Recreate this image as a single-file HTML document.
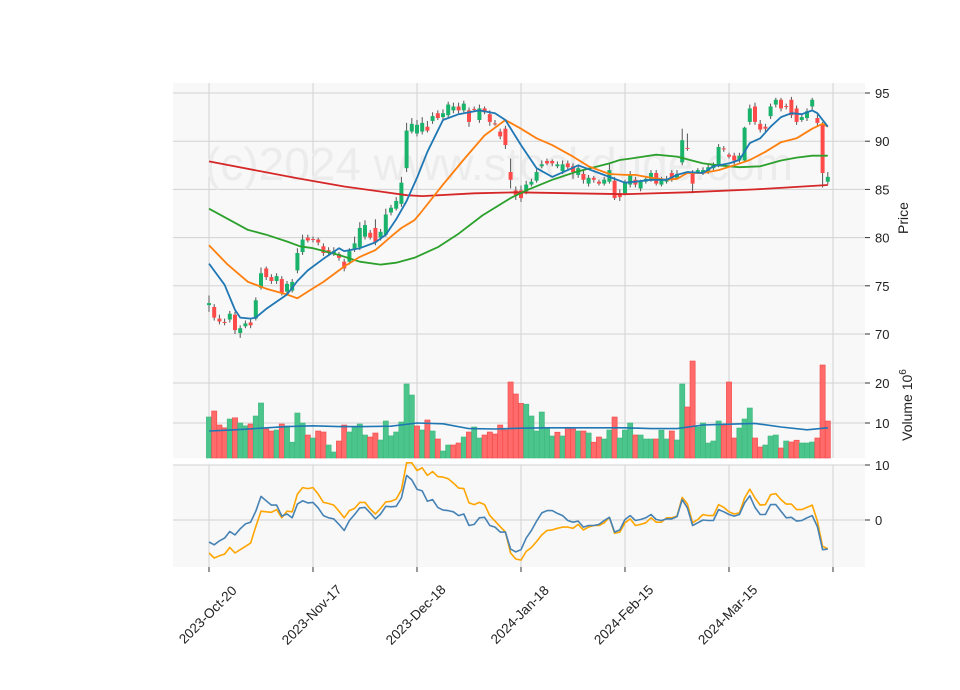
<!DOCTYPE html>
<html><head><meta charset="utf-8"><style>
html,body{margin:0;padding:0;background:#fff;}
svg{display:block;font-family:"Liberation Sans","DejaVu Sans",sans-serif;}
</style></head><body>
<svg id="chart" width="960" height="690" viewBox="0 0 960 690" xmlns="http://www.w3.org/2000/svg">
<rect x="173" y="83" width="692" height="268" fill="#f8f8f8"/>
<rect x="173" y="351" width="692" height="107" fill="#f8f8f8"/>
<rect x="173" y="465" width="692" height="102" fill="#f8f8f8"/>
<g id="grid"></g>
<text x="205" y="180" font-size="46" fill="#ececec">(c)2024 www.stockdude.com</text>
<g id="marks"></g>
<g id="labels"></g>
<text transform="translate(908,218) rotate(-90)" text-anchor="middle" font-size="14" fill="#222">Price</text>
<text transform="translate(912,405) rotate(-90)" text-anchor="middle" font-size="14" fill="#222">Volume  10<tspan font-size="10" dy="-6">6</tspan></text>
</svg>
<script>
const xTickLabels=["2023-Oct-20","2023-Nov-17","2023-Dec-18","2024-Jan-18","2024-Feb-15","2024-Mar-15",""];
const xTickIdx=[0,20,40,60,80,100,120];
const priceTicks=[70,75,80,85,90,95];
const volTicks=[10,20];
const macdTicks=[0,10];
const opens=[73.0,72.8,71.6,71.25,71.5,72.0,70.1,70.8,71.2,71.6,74.8,76.8,75.9,75.5,75.7,74.4,74.5,76.6,78.5,80.0,79.85,79.8,79.1,78.7,78.3,78.3,77.5,77.5,78.8,79.0,80.1,80.5,81.0,80.0,80.3,82.6,83.0,83.5,87.2,91.0,90.8,91.0,91.5,92.1,92.9,92.5,92.7,93.2,93.6,93.2,93.2,93.35,92.2,93.4,92.8,91.85,91.0,91.3,86.8,84.9,84.9,84.8,85.5,85.9,87.4,87.95,87.95,87.4,86.9,87.7,87.4,86.5,86.6,85.6,86.2,85.8,85.6,85.8,85.9,84.6,84.6,85.5,86.0,85.1,85.8,86.0,86.7,85.5,85.8,86.7,86.2,87.8,89.3,86.8,86.8,86.7,86.8,87.2,87.5,89.25,88.6,88.5,88.0,88.0,92.0,93.6,91.8,91.5,92.6,93.8,94.3,93.65,94.3,93.4,92.2,92.4,93.6,92.4,91.7,85.8];
const closes=[73.2,71.7,71.3,71.15,72.1,70.4,70.6,71.1,70.9,73.5,76.3,75.9,75.5,76.0,74.3,75.2,75.4,78.4,79.8,79.7,79.75,79.5,78.4,78.4,78.6,77.9,76.8,78.6,79.4,81.0,81.3,80.0,79.5,80.6,82.4,83.1,83.8,85.7,91.1,91.8,91.7,91.9,91.1,92.6,92.4,92.9,93.8,93.6,93.2,93.9,92.0,93.25,93.4,93.0,92.0,91.75,90.5,89.6,86.0,84.4,84.1,85.5,85.8,86.8,87.6,87.7,87.7,87.6,87.6,87.3,86.8,87.2,86.0,86.2,86.0,85.6,86.0,87.0,84.1,84.2,85.8,86.5,85.5,85.8,86.1,86.7,85.6,86.0,86.1,86.0,86.6,90.1,89.2,85.6,87.0,87.0,87.3,87.5,89.4,89.15,88.4,88.0,88.5,91.4,93.4,92.0,91.2,91.3,93.6,94.3,93.4,93.55,92.7,92.0,92.5,93.1,94.3,91.9,86.7,86.3];
const highs=[74.0,73.1,72.0,71.6,72.4,72.3,70.9,71.4,71.5,73.8,76.9,77.0,76.2,76.3,76.0,75.5,75.7,78.9,80.3,80.3,80.1,80.0,79.4,79.0,79.0,78.5,77.8,78.9,80.1,81.6,81.8,80.8,81.9,80.9,83.0,83.4,84.2,86.3,91.9,92.4,92.2,92.5,92.1,93.0,93.2,93.3,94.1,94.0,94.0,94.2,93.5,93.6,93.8,93.6,93.2,92.2,91.3,91.6,88.2,85.3,85.4,85.9,86.1,87.1,88.0,88.2,88.1,87.9,88.0,88.0,87.7,87.5,87.1,86.5,86.4,86.0,86.3,87.7,86.3,85.0,86.0,86.9,86.3,86.0,86.4,87.0,87.0,86.3,86.4,87.0,87.0,91.3,90.8,87.0,87.2,87.3,87.6,87.8,89.7,89.5,88.8,88.8,88.8,91.5,93.8,94.0,92.2,91.8,93.9,94.5,94.5,93.9,94.6,93.7,92.8,93.4,94.5,92.8,92.0,86.8];
const lows=[72.3,71.4,71.0,70.9,71.2,70.0,69.6,70.6,70.6,71.4,74.6,75.6,75.2,75.2,74.0,74.1,74.3,76.3,78.2,79.5,79.5,79.2,78.1,78.2,78.1,77.6,76.5,77.2,78.5,78.7,79.8,79.8,79.2,79.7,80.1,82.3,82.8,83.2,86.8,90.8,90.5,90.7,90.9,91.8,92.2,92.3,92.4,92.9,92.9,93.0,91.5,93.1,91.9,92.8,91.6,91.6,90.2,89.2,85.1,83.9,83.7,84.5,85.3,85.7,87.2,87.5,87.4,87.2,86.6,87.0,86.1,86.2,85.6,85.3,85.7,85.4,85.4,85.6,83.9,83.8,84.4,85.2,85.2,84.8,85.6,85.8,85.4,85.3,85.6,85.8,86.0,87.5,89.0,84.6,86.6,86.5,86.6,87.0,87.3,88.9,88.2,87.6,87.8,87.8,91.7,91.7,90.9,91.0,92.3,93.5,93.1,93.3,92.4,91.7,92.0,92.1,93.3,91.6,85.2,85.5];
const volumes=[11.5,13.0,9.5,8.8,11.0,11.3,10.0,9.3,9.75,11.75,15.0,8.5,8.0,8.25,9.75,9.25,5.2,12.5,10.0,7.0,6.25,8.0,7.75,4.5,2.75,5.5,9.5,7.75,9.0,9.75,7.0,6.5,7.5,5.75,10.5,6.8,7.75,10.25,19.75,17.0,9.25,8.25,10.75,8.0,6.0,3.0,4.5,4.5,5.0,6.5,7.75,9.0,6.25,7.0,7.75,7.25,9.5,8.25,20.25,17.25,14.9,14.7,11.75,8.0,12.75,8.8,6.75,7.7,6.75,8.7,8.5,8.0,8.0,7.5,5.2,6.5,6.0,8.25,11.5,6.25,8.25,10.0,7.0,7.0,6.0,6.0,6.0,8.2,6.0,8.0,5.75,19.75,14.0,25.5,9.0,10.0,5.0,5.5,10.5,9.5,20.25,6.25,8.75,11.0,13.75,6.25,4.0,4.5,6.75,7.0,3.75,5.5,5.25,5.7,5.0,5.0,5.25,6.25,24.5,10.5];
const volMaIdx=[0,5,10,15,20,25,30,35,40,45,50,55,60,65,70,75,80,85,90,95,100,105,110,115,119];
const volMaVals=[8.0,8.3,8.7,9.1,9.3,9.1,9.1,9.2,10.0,9.8,8.6,8.5,8.7,8.8,8.8,8.8,8.8,8.6,8.6,9.5,9.7,9.9,9.0,8.3,8.8];
const ma10Idx=[0,3,5,6,8,9,11,15,17,19,22,25,26,29,32,34,36,38,40,42,45,48,52,55,57,60,63,66,69,71,74,77,80,82,85,88,90,92,95,97,100,102,104,106,108,110,112,114,116,117,119];
const ma10Vals=[77.3,75.1,72.5,71.7,71.6,71.7,72.6,74.1,75.5,76.6,77.8,78.9,78.6,78.9,79.5,80.3,81.9,83.8,86.2,88.9,92.2,92.8,93.2,92.9,92.2,89.6,87.2,86.3,87.0,87.5,86.9,86.3,85.7,85.8,86.0,86.0,86.5,86.8,86.7,87.4,87.7,88.05,89.8,90.3,91.5,92.5,92.9,92.8,93.2,92.9,91.5];
const ma20Idx=[0,3.6,7.5,11,15,17,19,22,26,29,32,35,37,39.5,40.6,45,49,53,57,60,63,66,70,73,77,80,82,85,88,90,92,95,98,101,104,107,110,113,116,118,119];
const ma20Vals=[79.2,77.2,75.4,74.7,74.1,73.7,74.4,75.4,77.0,78.0,78.7,80.1,81.0,81.8,82.5,85.5,88.1,90.6,92.2,91.3,90.3,89.6,88.4,87.4,86.6,86.5,86.5,86.2,86.0,86.1,86.7,86.7,87.0,87.5,88.05,88.9,89.9,90.3,91.3,91.8,91.5];
const ma50Idx=[0,7.5,11,15,17.5,20,25,29,33,36,39.5,44,48,52.6,58,61,66,70.5,77,79,81,86,90,95,98,102,106,110,113,116,119];
const ma50Vals=[83.0,80.8,80.3,79.6,79.1,78.9,78.2,77.5,77.2,77.4,77.9,79.0,80.4,82.3,84.1,84.9,86.0,86.8,87.7,88.05,88.2,88.6,88.4,87.7,87.5,87.3,87.4,88.0,88.3,88.5,88.5];
const ma200Idx=[0,17,26,38,41,51,59,70,80,92,105,119];
const ma200Vals=[87.9,86.15,85.3,84.4,84.3,84.6,84.7,84.6,84.5,84.7,85.0,85.46];
const macdLine=[-4.0,-4.5,-3.8,-3.3,-2.1,-2.7,-1.6,-0.7,-0.4,1.6,4.3,3.5,2.7,2.7,0.7,1.1,0.4,2.9,3.5,3.1,3.2,2.2,0.8,0.4,0.2,-0.8,-1.9,-0.1,1.0,2.2,2.3,1.3,0.2,1.1,2.5,2.4,2.5,4.0,8.1,7.3,5.6,5.3,3.4,3.7,2.3,1.8,1.7,1.5,0.8,1.1,-1.0,-0.8,0.4,0.5,-1.0,-1.3,-2.2,-2.2,-5.3,-5.8,-5.4,-3.3,-1.9,-0.2,1.3,1.7,1.7,1.2,0.8,-0.1,-0.4,-0.2,-1.3,-1.0,-1.0,-0.8,-0.1,0.5,-2.2,-1.8,0.1,0.8,-0.1,0.1,0.4,1.0,0.1,-0.1,0.2,0.2,0.6,3.7,2.2,-1.0,-0.5,0,-0.1,-0.1,1.9,1.5,1.0,0.7,1.0,3.1,4.4,2.3,1.0,1.0,2.8,2.8,1.6,0.4,0.5,-0.2,-0.1,0.4,0.8,-1.2,-5.4,-5.3];
const macdOther=[-6.0,-6.9,-6.5,-6.2,-5.0,-6.0,-5.4,-4.8,-4.2,-1.2,1.6,1.5,1.4,1.9,0.4,1.6,1.5,4.7,5.9,5.7,5.9,4.7,3.2,3.0,2.7,1.6,0.4,1.7,2.1,3.2,3.2,2.0,1.1,2.1,3.3,3.4,3.8,5.5,10.4,10.4,9.0,9.5,8.1,8.8,7.9,7.8,7.5,6.7,5.8,5.7,3.1,2.8,3.2,2.8,0.8,-0.2,-1.2,-2.2,-6.0,-7.1,-7.3,-5.7,-5.0,-3.9,-2.7,-1.9,-1.8,-1.5,-1.3,-1.3,-1.5,-0.8,-1.8,-1.3,-1.0,-1.0,-0.5,0.5,-2.4,-2.2,-0.5,0.2,-1.0,-0.8,-0.5,0.4,-0.4,-0.4,0.4,0.4,0.7,4.1,2.9,-0.5,0.1,1.0,0.8,0.8,2.8,2.3,1.5,1.1,1.3,4.0,5.6,4.0,2.7,2.8,4.6,4.8,3.7,2.9,2.9,1.9,1.9,2.3,2.7,-0.2,-4.8,-5.2];

const NS="http://www.w3.org/2000/svg";
const xs=i=>209+5.2*i;
const yP=p=>93+(95-p)*9.64;
const yV=v=>463-v*4;
const yM=m=>520-m*5.5;
const grid=document.getElementById('grid'), marks=document.getElementById('marks'), labels=document.getElementById('labels');
function mk(tag,attrs,parent){const e=document.createElementNS(NS,tag);for(const k in attrs)e.setAttribute(k,attrs[k]);parent.appendChild(e);return e;}
const GC="#d2d2d2";
xTickIdx.forEach((t,k)=>{
  const x=xs(t);
  [[83,351],[351,458],[465,567]].forEach(r=>{const l=mk('line',{x1:x,x2:x,y1:r[0],y2:r[1],stroke:GC,'stroke-width':1},grid);
    
    });
  const tk=mk('line',{x1:x,x2:x,y1:567,y2:572,stroke:'#333','stroke-width':1},labels);
  
  
  if(xTickLabels[k]){
    const tx=mk('text',{transform:`translate(${x+2},${618}) rotate(-45)`,'text-anchor':'middle','font-size':13.5,fill:'#222'},labels);
    tx.textContent=xTickLabels[k];
    
    
  }
});
function yGrid(ticks,fy){ticks.forEach(v=>{const y=fy(v);
  const l=mk('line',{x1:173,x2:865,y1:y,y2:y,stroke:GC,'stroke-width':1},grid);
  
  
  const tk=mk('line',{x1:865,x2:870,y1:y,y2:y,stroke:'#333'},labels);
  
  
  const t=mk('text',{x:875,y:y+5,'font-size':13,fill:'#222'},labels);t.textContent=v;
  
  });}
yGrid(priceTicks,yP);yGrid(volTicks,yV);yGrid(macdTicks,yM);
const n=Math.min(opens.length,closes.length,highs.length,lows.length);
for(let i=0;i<volumes.length;i++){
  const up=i===0?true:closes[i]>=closes[i-1];
  const y=Math.max(yV(volumes[i]),351);
  const b=mk('rect',{x:xs(i)-2.6,y:y,width:5.2,height:458-y,fill:up?'#4cc58c':'#ff6a6a',stroke:up?'#3cb77c':'#f04848','stroke-width':0.6},marks);
  
  
}
function line(idx,vals,fy,color,w,name){
  const pts=vals.map((v,k)=>`${xs(idx?idx[k]:k).toFixed(1)},${fy(v).toFixed(1)}`).join(' ');
  const p=mk('polyline',{points:pts,fill:'none',stroke:color,'stroke-width':w,'stroke-linejoin':'round'},marks);
  
  
}
line(volMaIdx,volMaVals,yV,'#1f77b4',1.6,'volume-ma-line');
for(let i=0;i<n;i++){
  const up=closes[i]>=opens[i];const col=up?'#19b36b':'#ff4a4a';
  const w=mk('line',{x1:xs(i),x2:xs(i),y1:yP(highs[i]),y2:yP(lows[i]),stroke:'#555','stroke-width':1},marks);
  
  
  const top=yP(Math.max(opens[i],closes[i])),bot=yP(Math.min(opens[i],closes[i]));
  const r=mk('rect',{x:xs(i)-2,y:top,width:4,height:Math.max(bot-top,1),fill:col},marks);
  
  
}
line(ma200Idx,ma200Vals,yP,'#d62728',1.8,'ma200-line');
line(ma50Idx,ma50Vals,yP,'#2ca02c',1.8,'ma50-line');
line(ma20Idx,ma20Vals,yP,'#ff7f0e',1.8,'ma20-line');
line(ma10Idx,ma10Vals,yP,'#1f77b4',1.8,'ma10-line');
line(null,macdOther,yM,'#ffa500',1.6,'macd-signal-line');
line(null,macdLine,yM,'#4682b4',1.6,'macd-line');
</script>
</body></html>
